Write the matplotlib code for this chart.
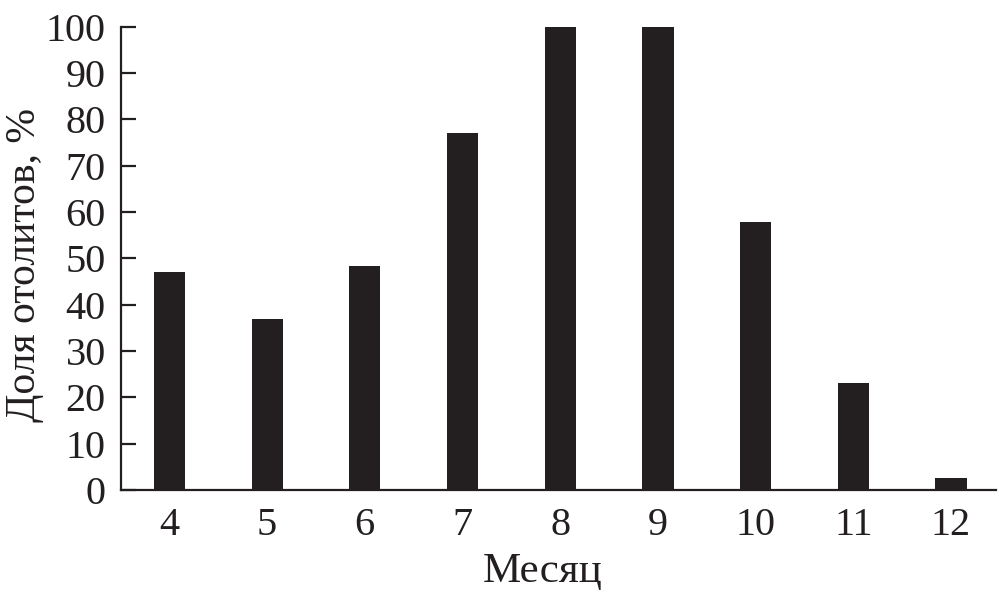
import matplotlib
matplotlib.use("Agg")
import matplotlib.pyplot as plt

months = [4, 5, 6, 7, 8, 9, 10, 11, 12]
values = [47.0, 37.0, 48.3, 77.0, 100.0, 100.0, 57.8, 23.0, 2.5]
yticks = [0, 10, 20, 30, 40, 50, 60, 70, 80, 90, 100]

plt.rcParams['font.family'] = ['Liberation Serif', 'DejaVu Serif']
col = '#231f20'

fig = plt.figure(figsize=(9.99, 5.98), dpi=100)
ax = fig.add_axes([121/999, 1-490/598, (996-121)/999, (490-26.7)/598])
ax.bar(months, values, width=0.32, color=col)
ax.set_xlim(3.504, 12.46)
ax.set_ylim(0, 100)
ax.set_yticks(yticks)
ax.set_xticks(months)
ax.set_xticklabels([str(m) for m in months])
for s in ['top', 'right']:
    ax.spines[s].set_visible(False)
for s in ['left', 'bottom']:
    ax.spines[s].set_linewidth(1.6)
    ax.spines[s].set_color(col)
ax.tick_params(axis='y', direction='in', length=10.5, width=1.6, color=col,
               labelsize=29, pad=11, labelcolor=col)
ax.tick_params(axis='x', length=0, labelsize=29, pad=12, labelcolor=col)
ax.set_xlabel('Месяц', fontsize=31, color=col)
ax.set_ylabel('Доля отолитов, %', fontsize=30, color=col)
ax.xaxis.set_label_coords(0.482, -0.135)
ax.yaxis.set_label_coords(-0.088, 0.485)
fig.savefig('out.png', dpi=100)
